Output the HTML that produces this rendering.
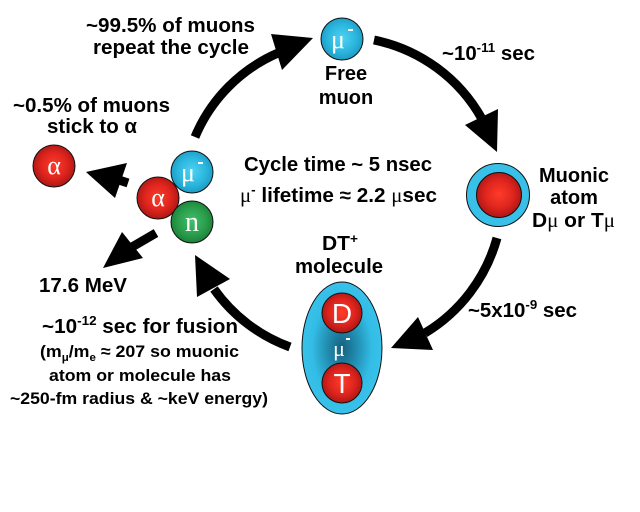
<!DOCTYPE html>
<html><head><meta charset="utf-8"><style>
html,body{margin:0;padding:0;background:#fff;}
svg{display:block;}
text{font-family:"Liberation Sans",Arial,sans-serif;font-weight:bold;fill:#000;}
.w{fill:#fff;font-weight:normal;}
.serif{font-family:"Liberation Serif",serif;}
</style></head><body>
<svg width="640" height="512" viewBox="0 0 640 512" xmlns="http://www.w3.org/2000/svg">
<defs>
<radialGradient id="red" cx="50%" cy="48%" r="55%">
<stop offset="0%" stop-color="#ff3b2a"/><stop offset="55%" stop-color="#e0261e"/><stop offset="100%" stop-color="#a81414"/>
</radialGradient>
<radialGradient id="cyan" cx="50%" cy="48%" r="55%">
<stop offset="0%" stop-color="#4fd2f2"/><stop offset="60%" stop-color="#2bb6de"/><stop offset="100%" stop-color="#1a98c0"/>
</radialGradient>
<radialGradient id="green" cx="50%" cy="48%" r="55%">
<stop offset="0%" stop-color="#40c068"/><stop offset="60%" stop-color="#2a9e4c"/><stop offset="100%" stop-color="#1a7c36"/>
</radialGradient>
<radialGradient id="dt" cx="50%" cy="50%" r="50%">
<stop offset="0%" stop-color="#16607e"/><stop offset="40%" stop-color="#2390b4"/><stop offset="75%" stop-color="#33bde6"/><stop offset="100%" stop-color="#38c2ea"/>
</radialGradient>
</defs>

<!-- arrows -->
<g fill="none" stroke="#000" stroke-width="9">
<path d="M195,137 A158,158 0 0,1 278,53"/>
<path d="M374,40 A160,160 0 0,1 482,119"/>
<path d="M497,238 A161,161 0 0,1 425,333"/>
<path d="M290,347 A160,160 0 0,1 214,289"/>
<path d="M156,233 L132,247"/>
<path d="M128,183 L119,180"/>
</g>
<g fill="#000">
<polygon points="271,34 313,38 282,70"/>
<polygon points="465,125 498,109 497,152"/>
<polygon points="418,317 433,350 391,348"/>
<polygon points="195,255 230,279 197,297"/>
<polygon points="122,232 143,258 103,268"/>
<polygon points="127,163 115,198 86,172"/>
</g>

<!-- free muon -->
<circle cx="342" cy="39" r="21" fill="url(#cyan)" stroke="#111" stroke-width="1"/>
<text class="w serif" x="338" y="48" font-size="26" text-anchor="middle">μ</text>
<rect x="348" y="29" width="5" height="2" fill="#fff"/>

<!-- muonic atom -->
<circle cx="498" cy="195" r="31.5" fill="#38c0e8" stroke="#111" stroke-width="1"/>
<circle cx="499" cy="195" r="22.5" fill="url(#red)" stroke="#111" stroke-width="1"/>

<!-- DT molecule -->
<ellipse cx="342" cy="348" rx="40" ry="66" fill="url(#dt)" stroke="#111" stroke-width="1"/>
<circle cx="342" cy="313" r="20" fill="url(#red)" stroke="#111" stroke-width="1"/>
<circle cx="342" cy="383" r="20" fill="url(#red)" stroke="#111" stroke-width="1"/>
<text class="w" x="342" y="323" font-size="28" text-anchor="middle">D</text>
<text class="w" x="342" y="393" font-size="28" text-anchor="middle">T</text>
<text class="w serif" x="339" y="356" font-size="22" text-anchor="middle">μ</text>
<rect x="346" y="338" width="4" height="2" fill="#fff"/>

<!-- cluster -->
<circle cx="192" cy="172" r="21" fill="url(#cyan)" stroke="#111" stroke-width="1"/>
<text class="w serif" x="188" y="181" font-size="26" text-anchor="middle">μ</text>
<rect x="198" y="162" width="5" height="2" fill="#fff"/>
<circle cx="158" cy="198" r="21" fill="url(#red)" stroke="#111" stroke-width="1"/>
<text class="w serif" x="158" y="206" font-size="26" text-anchor="middle">α</text>
<circle cx="192" cy="222" r="21" fill="url(#green)" stroke="#111" stroke-width="1"/>
<text class="w serif" x="192" y="231" font-size="28" text-anchor="middle">n</text>

<!-- left alpha -->
<circle cx="54" cy="166" r="21" fill="url(#red)" stroke="#111" stroke-width="1"/>
<text class="w serif" x="54" y="174" font-size="26" text-anchor="middle">α</text>

<!-- labels -->
<text x="86" y="32" font-size="20" textLength="169" lengthAdjust="spacingAndGlyphs">~99.5% of muons</text>
<text x="93" y="54" font-size="20" textLength="156" lengthAdjust="spacingAndGlyphs">repeat the cycle</text>
<text x="13" y="112" font-size="20" textLength="157" lengthAdjust="spacingAndGlyphs">~0.5% of muons</text>
<text x="47" y="133" font-size="20" textLength="90" lengthAdjust="spacingAndGlyphs">stick to α</text>

<text x="346" y="80" font-size="20" text-anchor="middle">Free</text>
<text x="346" y="104" font-size="20" text-anchor="middle">muon</text>

<text x="442" y="60" font-size="20" textLength="93" lengthAdjust="spacingAndGlyphs">~10<tspan dy="-8" font-size="13">-11</tspan><tspan dy="8"> sec</tspan></text>

<text x="244" y="171" font-size="20" textLength="188" lengthAdjust="spacingAndGlyphs">Cycle time ~ 5 nsec</text>
<text x="240" y="202" font-size="20" textLength="197" lengthAdjust="spacingAndGlyphs"><tspan font-weight="normal" font-family="Liberation Serif">μ</tspan><tspan dy="-8" font-size="13">-</tspan><tspan dy="8"> lifetime ≈ 2.2 </tspan><tspan font-weight="normal" font-family="Liberation Serif">μ</tspan>sec</text>

<text x="574" y="182" font-size="20" text-anchor="middle">Muonic</text>
<text x="574" y="204" font-size="20" text-anchor="middle">atom</text>
<text x="532" y="227" font-size="20" textLength="83" lengthAdjust="spacingAndGlyphs">D<tspan font-weight="normal" font-family="Liberation Serif">μ</tspan> or T<tspan font-weight="normal" font-family="Liberation Serif">μ</tspan></text>

<text x="322" y="250" font-size="20" textLength="36" lengthAdjust="spacingAndGlyphs">DT<tspan dy="-7" font-size="13">+</tspan></text>
<text x="339" y="273" font-size="20" text-anchor="middle" textLength="88" lengthAdjust="spacingAndGlyphs">molecule</text>

<text x="468" y="317" font-size="20" textLength="109" lengthAdjust="spacingAndGlyphs">~5x10<tspan dy="-8" font-size="13">-9</tspan><tspan dy="8"> sec</tspan></text>

<text x="39" y="292" font-size="20" textLength="88" lengthAdjust="spacingAndGlyphs">17.6 MeV</text>
<text x="42" y="333" font-size="20" textLength="196" lengthAdjust="spacingAndGlyphs">~10<tspan dy="-8" font-size="13">-12</tspan><tspan dy="8"> sec for fusion</tspan></text>
<text x="40" y="357" font-size="17" textLength="199" lengthAdjust="spacingAndGlyphs">(m<tspan dy="4" font-size="11">μ</tspan><tspan dy="-4">/m</tspan><tspan dy="4" font-size="11">e</tspan><tspan dy="-4"> ≈ 207 so muonic</tspan></text>
<text x="49" y="381" font-size="17" textLength="182" lengthAdjust="spacingAndGlyphs">atom or molecule has</text>
<text x="10" y="404" font-size="17" textLength="258" lengthAdjust="spacingAndGlyphs">~250-fm radius &amp; ~keV energy)</text>
</svg>
</body></html>
